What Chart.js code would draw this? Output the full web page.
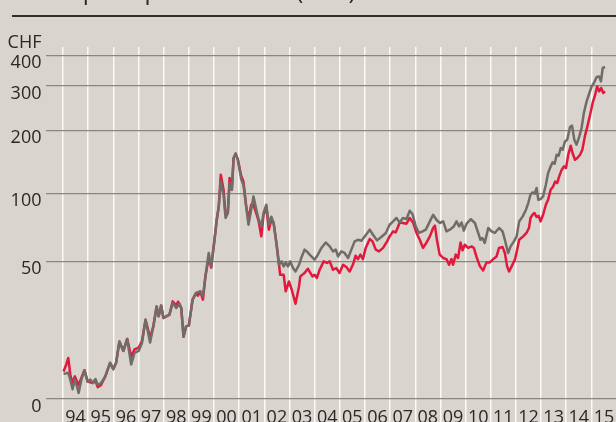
<!DOCTYPE html>
<html><head><meta charset="utf-8">
<script src="https://cdn.jsdelivr.net/npm/chart.js@4.4.1/dist/chart.umd.min.js"></script>
<style>html,body{margin:0;padding:0;background:#d9d4cd;overflow:hidden;}canvas{display:block;}</style>
</head><body>
<canvas id="c" width="616" height="422"></canvas>
<script>
const chartTitle = 'Share price performance (CHF)';
const unitLabel = 'CHF';
const years = [1994,1995,1996,1997,1998,1999,2000,2001,2002,2003,2004,2005,2006,2007,2008,2009,2010,2011,2012,2013,2014,2015];
const yearLabels = ['94','95','96','97','98','99','00','01','02','03','04','05','06','07','08','09','10','11','12','13','14','15'];
const yTickValues = [0,50,100,200,300,400];
const yTickLabels = ['0','50','100','200','300','400'];

const redDates = [1994.02,1994.13,1994.21,1994.29,1994.36,1994.47,1994.62,1994.85,1994.98,1995.18,
1995.29,1995.38,1995.51,1995.68,1995.87,1996.00,1996.11,1996.24,1996.40,1996.55,
1996.71,1996.84,1997.01,1997.14,1997.28,1997.46,1997.59,1997.72,1997.80,1997.90,
1997.99,1998.23,1998.36,1998.50,1998.57,1998.70,1998.79,1998.89,1999.00,1999.15,
1999.29,1999.36,1999.45,1999.56,1999.66,1999.79,1999.89,2000.02,2000.11,2000.19,
2000.27,2000.38,2000.46,2000.55,2000.62,2000.71,2000.78,2000.86,2000.95,2001.08,
2001.17,2001.28,2001.37,2001.48,2001.57,2001.70,2001.78,2001.88,2001.97,2002.08,
2002.18,2002.28,2002.37,2002.48,2002.58,2002.63,2002.77,2002.85,2002.98,2003.09,
2003.24,2003.38,2003.43,2003.60,2003.73,2003.91,2004.00,2004.09,2004.20,2004.36,
2004.49,2004.60,2004.73,2004.86,2004.99,2005.13,2005.26,2005.39,2005.52,2005.63,
2005.72,2005.82,2005.92,2006.03,2006.19,2006.30,2006.43,2006.56,2006.72,2006.88,
2006.98,2007.12,2007.22,2007.28,2007.38,2007.51,2007.65,2007.78,2007.91,2008.05,
2008.18,2008.31,2008.45,2008.58,2008.71,2008.78,2008.87,2008.97,2009.11,2009.24,
2009.34,2009.44,2009.50,2009.61,2009.70,2009.80,2009.88,2009.97,2010.10,2010.24,
2010.33,2010.43,2010.57,2010.70,2010.83,2010.96,2011.10,2011.23,2011.33,2011.47,
2011.56,2011.65,2011.73,2011.83,2011.96,2012.05,2012.13,2012.29,2012.42,2012.52,
2012.58,2012.66,2012.74,2012.82,2012.90,2012.98,2013.08,2013.19,2013.28,2013.38,
2013.48,2013.56,2013.64,2013.72,2013.82,2013.91,2013.99,2014.08,2014.18,2014.25,
2014.35,2014.44,2014.55,2014.64,2014.74,2014.84,2014.94,2015.05,2015.14,2015.23,
2015.31,2015.39,2015.47,2015.54];
const redValues = [16.2,17.4,18.6,15.7,14.4,15.4,14.1,16.4,14.6,14.4,
14.7,13.8,14.1,15.4,17.7,16.6,17.7,22.0,20.0,22.6,
18.9,20.3,20.7,22.2,27.5,22.9,25.7,31.5,28.5,31.8,
28.0,29.0,33.2,31.8,33.1,31.0,23.1,25.7,25.9,33.8,
36.2,35.2,36.8,33.8,42.9,51.9,46.9,62.4,76.6,87.8,
123.1,104.5,80.6,82.1,118.8,104.5,147.8,155.0,145.1,121.8,
114.4,87.8,76.6,89.3,89.3,80.6,75.1,64.6,80.6,87.5,
69.2,76.6,74.1,60.4,49.2,43.6,43.6,36.8,40.7,37.4,
32.4,38.7,42.9,44.4,46.4,42.9,43.6,42.2,45.9,50.0,
49.2,50.0,45.9,46.7,44.4,48.3,47.2,45.1,48.3,53.0,
51.2,53.6,51.2,57.4,62.9,61.4,56.4,55.4,57.4,61.4,
64.6,68.0,67.3,69.7,74.5,74.1,73.6,78.0,74.5,66.9,
62.4,57.4,60.7,64.6,70.4,72.1,61.4,53.6,51.8,51.2,
48.3,51.2,48.3,53.6,51.8,60.7,56.0,59.3,57.4,58.3,
57.4,52.5,47.6,45.6,49.5,49.5,51.2,52.6,57.4,57.9,
54.5,47.5,45.1,47.5,50.9,56.4,62.4,64.6,66.9,70.4,
78.0,80.6,82.1,78.8,79.8,75.3,80.6,89.3,94.0,104.5,
108.3,114.4,112.4,120.9,130.1,134.8,132.5,153.3,169.2,156.2,
145.1,147.8,153.3,161.9,187.3,207.4,228.7,256.9,274.6,298.9,
285.6,294.6,281.4,285.6];

const greyDates = [1994.02,1994.13,1994.21,1994.29,1994.38,1994.47,1994.54,1994.62,1994.73,1994.85,
1994.98,1995.09,1995.18,1995.29,1995.38,1995.51,1995.68,1995.87,1996.00,1996.11,
1996.24,1996.40,1996.55,1996.71,1996.84,1997.01,1997.14,1997.28,1997.46,1997.59,
1997.72,1997.80,1997.90,1997.99,1998.23,1998.36,1998.50,1998.63,1998.70,1998.79,
1998.89,1999.00,1999.15,1999.29,1999.45,1999.56,1999.66,1999.79,1999.89,2000.02,
2000.11,2000.19,2000.27,2000.38,2000.46,2000.55,2000.62,2000.71,2000.78,2000.86,
2000.95,2001.08,2001.17,2001.28,2001.37,2001.48,2001.57,2001.70,2001.78,2001.88,
2001.97,2002.08,2002.18,2002.28,2002.37,2002.48,2002.58,2002.68,2002.77,2002.85,
2002.94,2003.03,2003.14,2003.24,2003.38,2003.47,2003.60,2003.69,2003.80,2004.00,
2004.13,2004.27,2004.44,2004.60,2004.73,2004.84,2004.93,2005.06,2005.19,2005.33,
2005.46,2005.59,2005.72,2005.86,2005.99,2006.19,2006.32,2006.48,2006.65,2006.83,
2006.98,2007.12,2007.25,2007.38,2007.51,2007.65,2007.78,2007.89,2008.02,2008.15,
2008.29,2008.42,2008.58,2008.71,2008.84,2008.97,2009.11,2009.24,2009.37,2009.53,
2009.64,2009.74,2009.84,2009.93,2010.04,2010.21,2010.37,2010.50,2010.59,2010.67,
2010.76,2010.90,2011.03,2011.16,2011.33,2011.47,2011.56,2011.69,2011.79,2011.92,
2012.03,2012.13,2012.27,2012.40,2012.49,2012.58,2012.66,2012.75,2012.82,2012.89,
2012.98,2013.08,2013.19,2013.28,2013.38,2013.46,2013.54,2013.62,2013.70,2013.78,
2013.86,2013.95,2014.04,2014.15,2014.23,2014.32,2014.41,2014.52,2014.61,2014.70,
2014.81,2014.92,2015.01,2015.10,2015.21,2015.31,2015.38,2015.45,2015.54];
const greyValues = [15.8,15.9,16.0,14.9,13.5,14.9,14.1,13.0,14.9,16.4,
14.6,14.9,14.4,15.0,14.1,14.4,15.4,17.7,16.6,17.7,
22.0,20.0,22.6,17.4,19.6,20.0,21.7,27.5,21.8,25.7,
31.5,28.5,31.8,28.0,29.0,32.7,31.0,32.4,31.0,23.1,
25.7,25.9,33.8,36.2,36.8,34.9,42.9,54.5,47.5,62.4,
76.6,87.8,114.4,99.0,78.0,82.1,112.4,104.5,147.8,155.0,
145.1,117.5,110.4,87.8,72.8,84.9,97.3,83.2,76.6,71.3,
82.1,89.3,72.8,79.0,74.1,60.4,48.3,50.0,47.5,49.5,
47.5,50.0,46.7,45.1,48.3,51.8,56.4,55.4,53.6,50.9,
53.6,57.4,60.7,58.3,55.4,56.4,52.6,55.4,54.5,51.8,
56.4,61.4,62.4,61.8,64.6,69.2,65.7,62.0,64.2,66.9,
72.8,75.3,78.0,74.5,78.0,77.2,84.0,81.2,71.5,66.9,
68.0,69.2,75.3,80.6,76.6,74.1,75.3,68.0,69.2,71.5,
75.3,71.5,74.5,68.5,73.6,77.0,74.1,66.9,62.4,63.5,
60.4,70.4,68.0,66.9,70.4,68.0,62.4,54.5,58.3,61.4,
64.6,75.3,79.3,84.9,90.9,99.0,101.4,100.0,106.4,94.0,
94.7,97.3,110.4,125.5,134.8,140.9,138.9,153.3,151.6,164.9,
161.9,177.3,180.7,206.3,208.8,180.7,171.0,187.3,204.4,234.4,
260.6,281.4,298.9,308.6,326.5,328.3,313.3,355.3,358.7];

// Axis geometry of the original (a stretched, log-like value axis):
// share of the plot height at which each labelled gridline sits.
const yBreaks = [50, 100, 200, 300, 400];
const yBreakShare = [0.3909, 0.5832, 0.7631, 0.8892, 0.9761];
const yLowShare = 0.1923; // per doubling below 50

function toShare(v) {
  if (v <= 0) return 0;
  if (v < yBreaks[0]) return Math.max(0, yBreakShare[0] + yLowShare * Math.log2(v / yBreaks[0]));
  let i = 0;
  while (i < yBreaks.length - 2 && v > yBreaks[i + 1]) i++;
  const f = Math.log(v / yBreaks[i]) / Math.log(yBreaks[i + 1] / yBreaks[i]);
  return yBreakShare[i] + f * (yBreakShare[i + 1] - yBreakShare[i]);
}
function fromShare(s) {
  if (s <= 0) return 0;
  if (s < yBreakShare[0]) return yBreaks[0] * Math.pow(2, (s - yBreakShare[0]) / yLowShare);
  let i = 0;
  while (i < yBreaks.length - 2 && s > yBreakShare[i + 1]) i++;
  const f = (s - yBreakShare[i]) / (yBreakShare[i + 1] - yBreakShare[i]);
  return yBreaks[i] * Math.pow(yBreaks[i + 1] / yBreaks[i], f);
}

class StretchScale extends Chart.LinearScale {
  determineDataLimits() { this.min = 0; this.max = 400; }
  buildTicks() { return yTickValues.map(value => ({ value })); }
  getPixelForValue(value) { return this.bottom - toShare(value) * (this.bottom - this.top); }
  getValueForPixel(pixel) { return fromShare((this.bottom - pixel) / (this.bottom - this.top)); }
}
StretchScale.id = 'stretch';
StretchScale.defaults = {};
Chart.register(StretchScale);

const FONT = 'Open Sans';
const TEXT = '#2a2826';

const bgPlugin = {
  id: 'bg',
  beforeDraw(chart) {
    const c = chart.ctx; c.save();
    c.fillStyle = '#d9d4cd'; c.fillRect(0, 0, chart.width, chart.height);
    c.restore();
  }
};
const decorPlugin = {
  id: 'decor',
  afterDraw(chart) {
    const c = chart.ctx; c.save();
    c.fillStyle = TEXT;
    c.font = '24px "' + FONT + '"';
    c.textAlign = 'left'; c.textBaseline = 'alphabetic';
    c.fillText(chartTitle, 12, -1.5);
    c.strokeStyle = '#2f2d2b'; c.lineWidth = 2;
    c.beginPath(); c.moveTo(12, 16); c.lineTo(chart.width, 16); c.stroke();
    c.font = '18px "' + FONT + '"';
    c.textAlign = 'right'; c.textBaseline = 'middle';
    c.fillText(unitLabel, 41.5, 43);
    c.restore();
  }
};

function make() {
  new Chart(document.getElementById('c'), {
    type: 'line',
    data: {
      datasets: [
        { label: 'grey', data: greyDates.map((d, i) => ({ x: d, y: greyValues[i] })),
          borderColor: '#716c67', borderWidth: 2.5, pointRadius: 0, tension: 0, borderJoinStyle: 'round' },
        { label: 'red', data: redDates.map((d, i) => ({ x: d, y: redValues[i] })),
          borderColor: '#e1193c', borderWidth: 2.5, pointRadius: 0, tension: 0, borderJoinStyle: 'round' }
      ]
    },
    options: {
      responsive: false, animation: false, events: [], devicePixelRatio: 1,
      layout: { padding: { top: 47, left: 0, right: 0, bottom: 0 } },
      plugins: { legend: { display: false }, tooltip: { enabled: false } },
      scales: {
        x: {
          type: 'linear', min: 1993.3235, max: 2015.978,
          afterBuildTicks: s => { const t = []; years.forEach(y => { t.push({ value: y }); t.push({ value: y + 0.5 }); }); s.ticks = t; },
          afterFit: s => { s.height = 23; },
          grid: {
            color: c => Number.isInteger(c.tick && c.tick.value) ? '#fbfaf8' : 'rgba(0,0,0,0)',
            lineWidth: 1.5, drawTicks: true, tickLength: 25, z: -2
          },
          border: { display: false },
          ticks: {
            autoSkip: false, maxRotation: 0, minRotation: 0, padding: -17, color: TEXT,
            font: { family: FONT, size: 18 },
            callback: v => Number.isInteger(v) ? '' : yearLabels[years.indexOf(Math.floor(v))]
          }
        },
        y: {
          type: 'stretch', position: 'left',
          afterFit: s => { s.width = 46; },
          grid: { color: '#8b8680', lineWidth: 1.3, drawTicks: false, z: -1 },
          border: { display: false },
          ticks: { padding: 4.5, labelOffset: 7.5, color: TEXT, font: { family: FONT, size: 18 },
            callback: (v, i) => yTickLabels[i] }
        }
      }
    },
    plugins: [bgPlugin, decorPlugin]
  });
}
if (document.fonts && document.fonts.load) {
  document.fonts.load('18px "' + FONT + '"').then(make, make);
} else { make(); }
</script>
</body></html>
